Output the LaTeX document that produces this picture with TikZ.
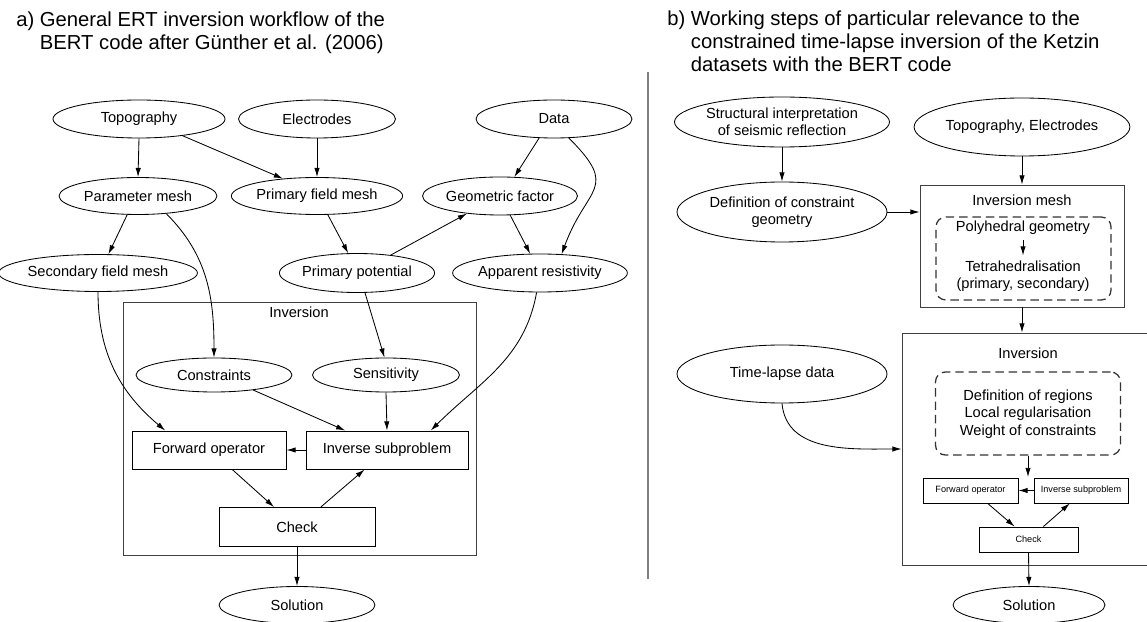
\documentclass[tikz,border=0pt]{standalone}
\usepackage{fontspec}
\setmainfont{Liberation Sans}
\usepackage{tikz}
\usetikzlibrary{arrows.meta,shapes.geometric}
\newlength\px
\setlength\px{0.025cm}

\begin{document}
\begin{tikzpicture}[
						x=0.025cm, y=0.025cm,
						every node/.style={font=\fontsize{10.4}{12.4}\selectfont},
						ell/.style={ellipse, draw, line width=0.6pt, inner sep=0pt},
						blk/.style={rectangle, draw, line width=0.7pt, minimum height=38*\px},
						sblk/.style={rectangle, draw, line width=0.6pt, minimum height=25*\px, font=\fontsize{6.5}{8}\selectfont},
						frame/.style={rectangle, draw=black!75, line width=0.6pt, inner sep=0pt},
						dbox/.style={rectangle, draw=black!80, line width=0.9pt, dash pattern=on 6pt off 3.5pt, rounded corners=7pt, inner sep=0pt},
						arr/.style={-{Latex[length=6.5pt,width=3.8pt]}, line width=0.6pt},
						ttl/.style={font=\fontsize{14.4}{16.2}\selectfont, align=left, anchor=north west, inner sep=0pt}
						]
						
						\useasboundingbox (0,0) rectangle (1147,-622);
						
						% Titles
						\node[ttl] (ttla) at (16,-12) {a) General ERT inversion workflow of the\\\phantom{a) }BERT code after Günther et al. (2006)};
						\node[ttl] (ttlb) at (667,-11) {b) Working steps of particular relevance to the\\\phantom{b) }constrained time-lapse inversion of the Ketzin\\\phantom{b) }datasets with the BERT code};
						
						% Divider
						\coordinate (divtop) at (648,-72);
						\coordinate (divbot) at (648,-579);
						\draw[gray, line width=1.3pt] (divtop) -- (divbot);
						
						% a) input nodes
						\node[ell, minimum width=172*\px, minimum height=38*\px] (topo) at (139,-119) {Topography};
						\node[ell, minimum width=157*\px, minimum height=38*\px] (elec) at (317,-119) {Electrodes};
						\node[ell, minimum width=156*\px, minimum height=38*\px] (data) at (554,-119) {Data};
						\node[ell, minimum width=158*\px, minimum height=37*\px] (pmesh) at (138,-196) {Parameter mesh};
						\node[ell, minimum width=164*\px, minimum height=37*\px] (pfmesh) at (317,-196) {Primary field mesh};
						\node[ell, minimum width=155*\px, minimum height=38*\px] (geofac) at (500,-196) {Geometric factor};
						\node[ell, minimum width=183*\px, minimum height=37*\px] (sfmesh) at (98,-273) {Secondary field mesh};
						\node[ell, minimum width=155*\px, minimum height=39*\px] (ppot) at (357,-273) {Primary potential};
						\node[ell, minimum width=171*\px, minimum height=38*\px] (appres) at (540,-273) {Apparent resistivity};
						
						% a) inversion
						\node[frame, minimum width=353*\px, minimum height=253*\px] (inva) at (299.5,-428.5) {};
						\node (invla) at (299,-312) {Inversion};
						\node[ell, minimum width=156*\px, minimum height=34*\px] (constr) at (214,-375) {Constraints};
						\node[ell, minimum width=147*\px, minimum height=34*\px] (sens) at (386,-375) {Sensitivity};
						\node[blk, minimum width=154*\px] (fwda) at (209,-450) {Forward operator};
						\node[blk, minimum width=162*\px] (invsa) at (387,-450) {Inverse subproblem};
						\node[blk, minimum width=156*\px, minimum height=39*\px] (chka) at (297,-527) {Check};
						\node[ell, minimum width=156*\px, minimum height=37*\px] (sola) at (297,-605) {Solution};
						
						% a) connectors
						\draw[arr] (topo.south) -- (pmesh.north);
						\draw[arr] (topo.-21) -- (pfmesh.153);
						\draw[arr] (elec.south) -- (pfmesh.north);
						\draw[arr] (data.-128) -- (geofac.53);
						\draw[arr] (data.-52) to[out=-45,in=70,looseness=1.6] (appres.41);
						\draw[arr] (geofac.-62) -- (appres.117);
						\draw[arr] (ppot.28) -- (geofac.-152);
						\draw[arr] (pfmesh.-60) -- (ppot.114);
						\draw[arr] (pmesh.-120) -- (sfmesh.61);
						\draw[arr] (pmesh.-32) to[out=-45,in=90] (constr.north);
						\draw[arr] (ppot.-68) -- (sens.95);
						\draw[arr] (sfmesh.south) to[out=-90,in=140] (fwda.156);
						\draw[arr] (appres.-100) to[out=-100,in=45] (invsa.24);
						\draw[arr] (constr.-21) -- (invsa.155);
						\draw[arr] (sens.south) -- (invsa.north);
						\draw[arr] (invsa.west) -- (fwda.east);
						\draw[arr] (fwda.-40) -- (chka.139);
						\draw[arr] (chka.40) -- (invsa.-139);
						\draw[arr] (chka.south) -- (sola.north);
						
						% b) input nodes
						\node[ell, align=center, minimum width=210*\px, minimum height=50*\px] (struct) at (782,-122) {Structural interpretation\\of seismic reflection};
						\node[ell, minimum width=211*\px, minimum height=58*\px] (topel) at (1022,-127) {Topography, Electrodes};
						\node[ell, align=center, minimum width=210*\px, minimum height=60*\px] (defc) at (782,-212) {Definition of constraint\\geometry};
						\node[ell, minimum width=210*\px, minimum height=58*\px] (tlapse) at (782,-374) {Time-lapse data};
						
						% b) inversion mesh
						\node[frame, minimum width=204*\px, minimum height=122*\px] (mesh) at (1022,-246) {};
						\node (meshl) at (1022,-200) {Inversion mesh};
						\node[dbox, minimum width=175*\px, minimum height=83*\px] (dmesh) at (1023.5,-258.5) {};
						\node (poly) at (1023,-228) {Polyhedral geometry};
						\node[align=center] (tetra) at (1023,-276) {Tetrahedralisation\\(primary, secondary)};
						
						% b) inversion
						\node[frame, minimum width=258*\px, minimum height=232*\px] (invb) at (1031,-449) {};
						\node (invlb) at (1028,-353) {Inversion};
						\node[dbox, minimum width=185*\px, minimum height=83*\px] (dinv) at (1028,-413.5) {};
						\node[align=center] (regs) at (1028,-414) {Definition of regions\\Local regularisation\\Weight of constraints};
						\coordinate (jn) at (1028,-477);
						\node[sblk, minimum width=95*\px] (fwdb) at (970.5,-490.5) {Forward operator};
						\node[sblk, minimum width=94*\px] (invsb) at (1081,-490.5) {Inverse subproblem};
						\node[sblk, minimum width=99*\px] (chkb) at (1028.5,-539.5) {Check};
						\node[ell, minimum width=152*\px, minimum height=37*\px] (solb) at (1029,-605) {Solution};
						
						% b) connectors
						\draw[arr] (struct.south) -- (defc.north);
						\draw[arr] (topel.south) -- (mesh.north);
						\draw[arr] (defc.east) -- (defc.east -| mesh.west);
						\draw[arr] (poly.south) -- (tetra.north);
						\draw[arr] (mesh.south) -- (mesh.south |- invb.north);
						\draw[arr] (tlapse.south) to[out=-85,in=180] (invb.west);
						\draw[arr] (dinv.south) -- (jn);
						\draw[arr] (invsb.west) -- (fwdb.east);
						\draw[arr] (fwdb.-37) -- (chkb.137);
						\draw[arr] (chkb.41) -- (invsb.-131);
						\draw[arr] (chkb.south) -- (solb.north);
						
					\end{tikzpicture}
\end{document}
